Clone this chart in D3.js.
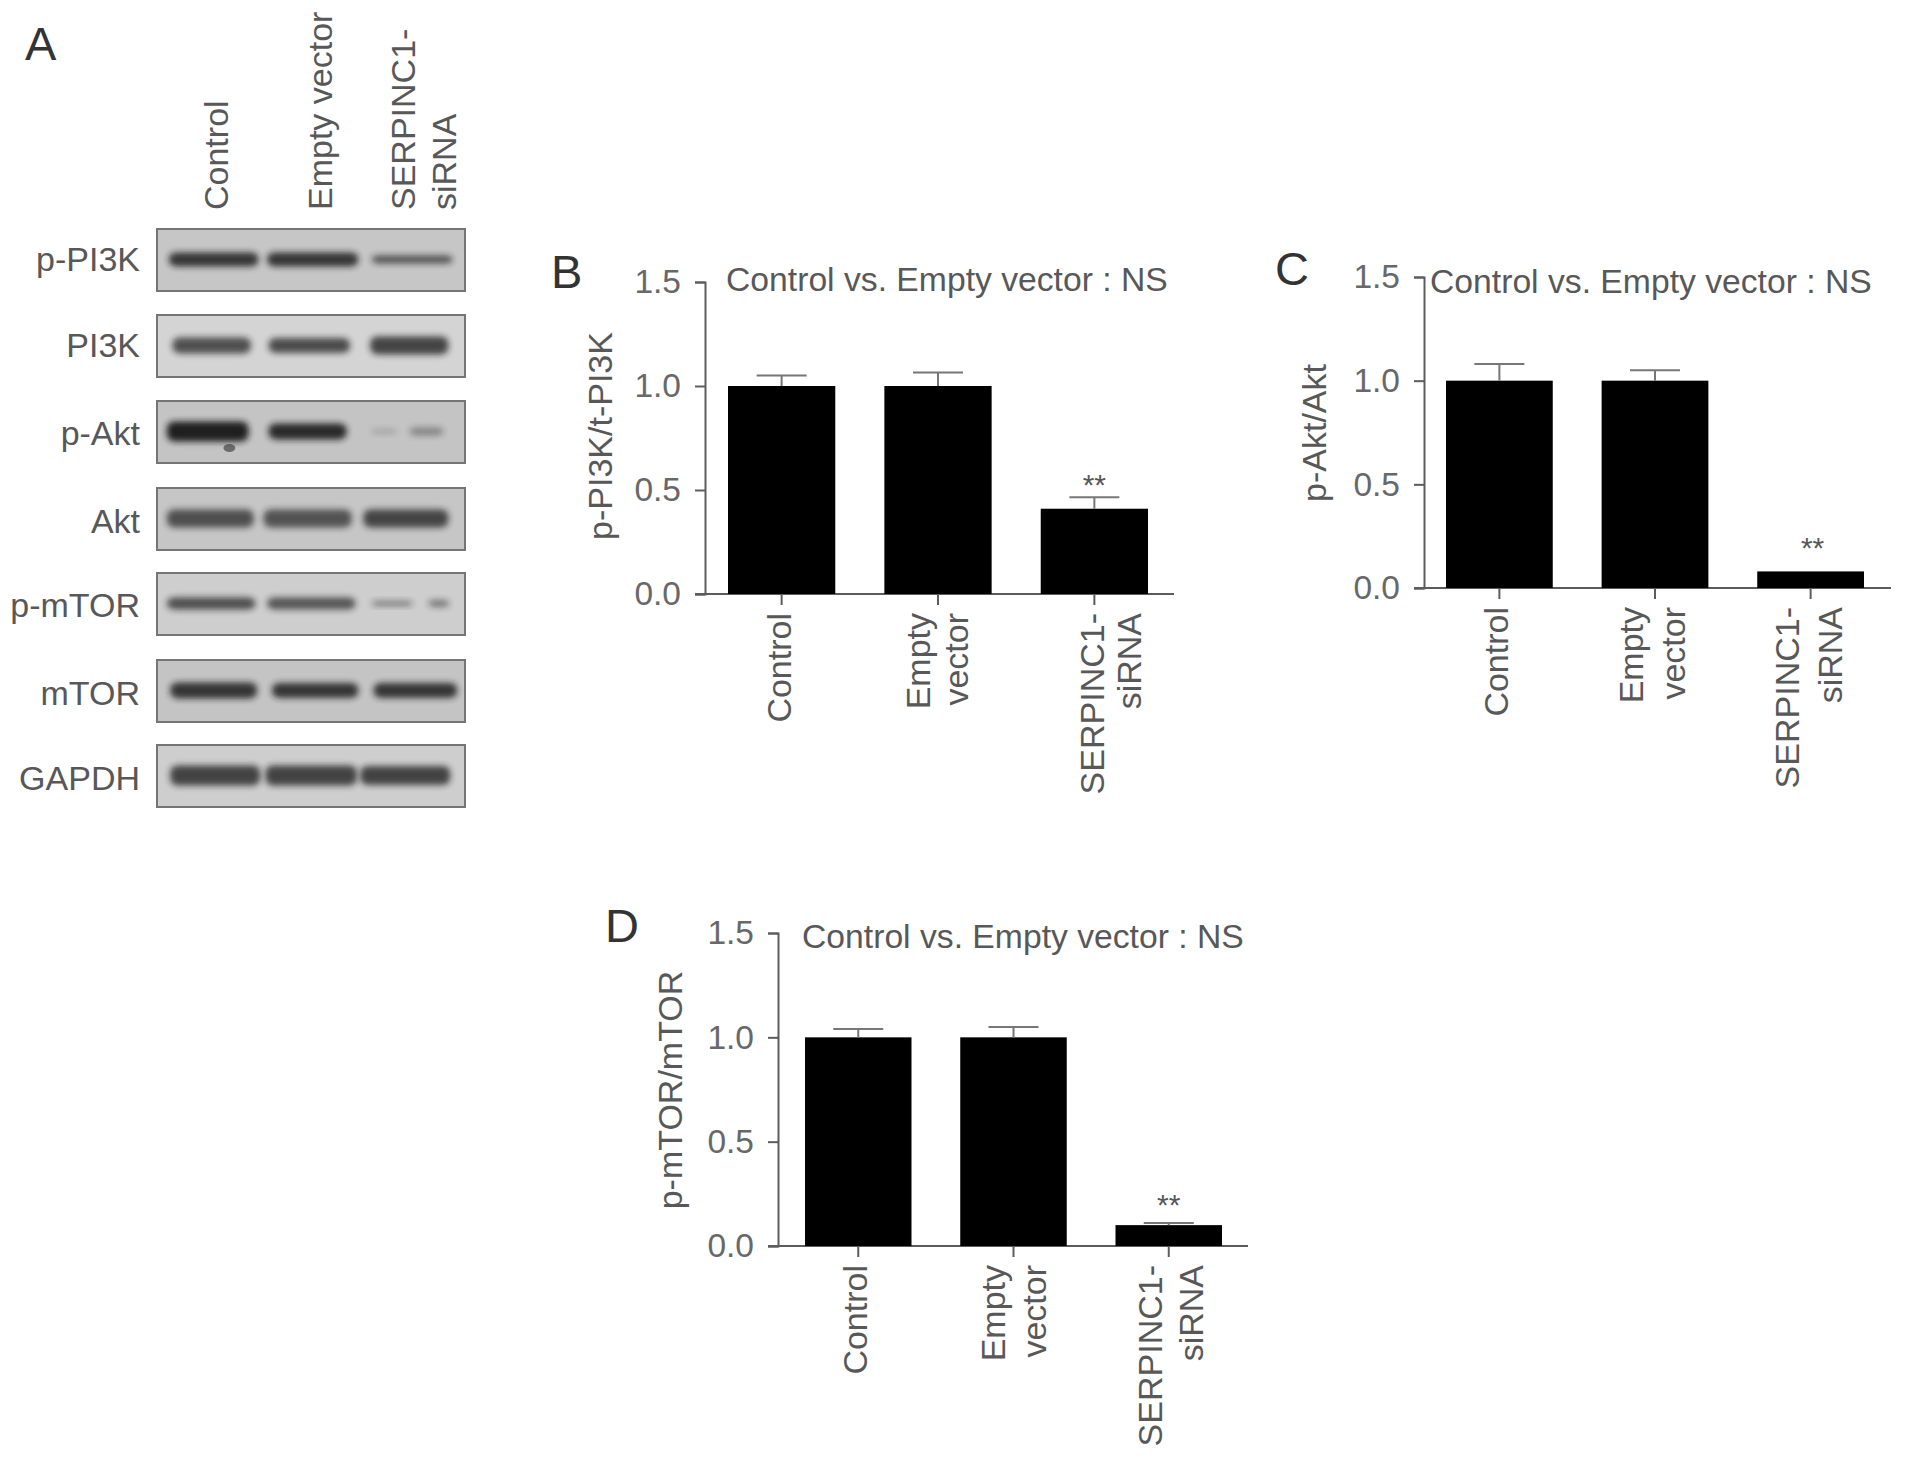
<!DOCTYPE html>
<html>

<head>
    <meta charset="utf-8">
    <style>
        html,
        body {
            margin: 0;
            background-color: #ffffff;
        }

        svg {
            display: block;
        }

        text {
            font-family: "Liberation Sans", Arial, sans-serif;
            fill: #585858;
        }

        .axis path,
        .axis line,
        .baseline,
        .errbar {
            stroke: #5c5c5c;
            stroke-width: 2;
            fill: none;
        }

        .errbar {
            stroke: #777777;
        }

        .axis text {
            font-size: 33.5px;
            fill: #686868;
        }

        .bar {
            fill: #000000;
        }
    </style>
</head>

<body>
    <div id="chart"></div>

    <script src="https://d3js.org/d3.v7.min.js"></script>
    <script>
        // ---- chart data ----
        var groups = ["Control", "Empty vector", "SERPINC1-siRNA"];
        var yTicks = [0, 0.5, 1, 1.5];

        var pi3kValues = [1.0, 1.0, 0.41];
        var pi3kErrors = [0.05, 0.065, 0.055];
        var aktValues = [1.0, 1.0, 0.08];
        var aktErrors = [0.08, 0.05, 0];
        var mtorValues = [1.0, 1.0, 0.1];
        var mtorErrors = [0.04, 0.05, 0.01];

        // western blot rows, band darkness per lane (0-1)
        var blotNames = ["p-PI3K", "PI3K", "p-Akt", "Akt", "p-mTOR", "mTOR", "GAPDH"];
        var blotDensity = [
            [0.85, 0.85, 0.68],
            [0.72, 0.74, 0.78],
            [0.98, 0.92, 0.2, 0.38],
            [0.7, 0.68, 0.76],
            [0.72, 0.68, 0.5, 0.5],
            [0.85, 0.85, 0.85],
            [0.78, 0.78, 0.78]
        ];
        var blotShade = [198, 212, 196, 198, 206, 196, 206];

        // ---- layout ----
        var svg = d3.select("#chart").append("svg")
            .attr("width", 1913)
            .attr("height", 1461);

        var defs = svg.append("defs");
        defs.append("filter").attr("id", "soft")
            .attr("x", "-20%").attr("y", "-80%").attr("width", "140%").attr("height", "260%")
            .append("feGaussianBlur").attr("stdDeviation", 3);
        defs.append("filter").attr("id", "edge")
            .append("feGaussianBlur").attr("stdDeviation", 0.7);

        // band extents in percent of the blot width, thickness in px
        var blotBands = [
            [[3.8, 33, 14], [35.7, 65.4, 14], [69.7, 96, 8]],
            [[5, 30.5, 16], [36.2, 62.7, 15], [69.2, 94.6, 18]],
            [[3.2, 29.7, 20], [36.2, 61.6, 16], [69.5, 78, 5], [82, 93, 8]],
            [[3.2, 31.4, 18], [34.6, 63.2, 18], [67, 94.6, 18]],
            [[3.2, 32, 12], [35.7, 64.5, 12], [69.7, 83, 5], [88, 95, 7]],
            [[4.3, 32.5, 16], [37.3, 65.4, 15], [70.3, 97.5, 15]],
            [[4.3, 33.5, 20], [35.2, 64.9, 20], [66, 95.2, 19]]
        ];
        var blotTop = [229, 315, 401, 488, 573, 660, 745];
        var blotLabelY = [271, 357, 445, 533, 617, 705, 790];
        var blotHeight = 62;

        var blotX = d3.scaleLinear().domain([0, 100]).range([157, 465]);

        function drawBlots() {
            var g = svg.append("g");

            blotNames.forEach(function (name, i) {
                var top = blotTop[i],
                    shade = blotShade[i];

                g.append("rect")
                    .attr("x", blotX(0))
                    .attr("y", top)
                    .attr("width", blotX(100) - blotX(0))
                    .attr("height", blotHeight)
                    .attr("fill", d3.rgb(shade, shade, shade))
                    .attr("stroke", "#747474")
                    .attr("stroke-width", 2)
                    .attr("filter", "url(#edge)");

                g.selectAll(".band" + i)
                    .data(blotBands[i])
                    .enter().append("rect")
                    .attr("class", "band" + i)
                    .attr("x", function (d) { return blotX(d[0]) })
                    .attr("y", function (d) { return top + blotHeight * 0.49 - d[2] / 2 })
                    .attr("width", function (d) { return blotX(d[1]) - blotX(d[0]) })
                    .attr("height", function (d) { return d[2] })
                    .attr("rx", 7)
                    .attr("fill", "#1c1c1c")
                    .attr("opacity", function (d, j) { return blotDensity[i][j] })
                    .attr("filter", "url(#soft)");

                g.append("text")
                    .attr("x", 140)
                    .attr("y", blotLabelY[i])
                    .attr("text-anchor", "end")
                    .style("font-size", "34px")
                    .text(name);
            });

            // the dark smear under the first p-Akt lane
            g.append("ellipse")
                .attr("cx", blotX(23.5))
                .attr("cy", blotTop[2] + 47)
                .attr("rx", 6)
                .attr("ry", 4)
                .attr("fill", "#333333")
                .attr("opacity", 0.6)
                .attr("filter", "url(#edge)");

            // lane headers
            var headers = [["Control", 216], ["Empty vector", 320], ["SERPINC1-", 403], ["siRNA", 444]];
            headers.forEach(function (h) {
                g.append("text")
                    .attr("transform", "translate(" + h[1] + ",210) rotate(-90)")
                    .attr("dy", ".35em")
                    .style("font-size", "34px")
                    .text(h[0]);
            });

            letter("A", 25, 60);
        }

        function letter(s, x, y) {
            svg.append("text")
                .attr("x", x)
                .attr("y", y)
                .style("font-size", "47px")
                .style("fill", "#333333")
                .text(s);
        }

        function drawBars(p) {
            var g = svg.append("g");

            var y = d3.scaleLinear().domain([0, 1.5]).range([p.y0, p.y15]);
            var x = d3.scaleBand().domain(groups)
                .range([p.barLeft, p.barRight])
                .paddingInner(0.314)
                .paddingOuter(0);

            // y axis
            g.append("g")
                .attr("class", "axis")
                .attr("transform", "translate(" + p.axisX + ",0)")
                .call(d3.axisLeft(y).tickValues(yTicks).tickFormat(d3.format(".1f")).tickSize(10).tickPadding(14).tickSizeOuter(10));

            // x axis, the line runs past the last bar
            g.append("line")
                .attr("class", "baseline")
                .attr("x1", p.axisX - 10)
                .attr("x2", p.baseRight)
                .attr("y1", y(0))
                .attr("y2", y(0));

            var xAxis = g.append("g")
                .attr("class", "axis")
                .attr("transform", "translate(0," + y(0) + ")")
                .call(d3.axisBottom(x).tickSize(11).tickSizeOuter(0).tickFormat(""));
            xAxis.select(".domain").remove();

            // bars
            g.selectAll(".bar")
                .data(groups)
                .enter().append("rect")
                .attr("class", "bar")
                .attr("x", function (d) { return x(d) })
                .attr("y", function (d, i) { return y(p.values[i]) })
                .attr("width", x.bandwidth())
                .attr("height", function (d, i) { return y(0) - y(p.values[i]) });

            // error bars, upper half only
            groups.forEach(function (d, i) {
                if (p.errors[i] == 0) return;
                var cx = x(d) + x.bandwidth() / 2,
                    top = y(p.values[i] + p.errors[i]);
                g.append("line").attr("class", "errbar")
                    .attr("x1", cx).attr("x2", cx)
                    .attr("y1", y(p.values[i])).attr("y2", top);
                g.append("line").attr("class", "errbar")
                    .attr("x1", cx - 25).attr("x2", cx + 25)
                    .attr("y1", top).attr("y2", top);
            });

            // significance stars over the knockdown
            var last = groups[2];
            g.append("text")
                .attr("x", x(last) + x.bandwidth() / 2 + p.starDx)
                .attr("y", y(p.values[2] + p.errors[2]) - p.starGap)
                .attr("text-anchor", "middle")
                .style("font-size", "30px")
                .text("**");

            // rotated category labels
            var lines = [["Control"], ["Empty", "vector"], ["SERPINC1-", "siRNA"]];
            lines.forEach(function (ls, i) {
                ls.forEach(function (t, j) {
                    g.append("text")
                        .attr("transform", "translate(" + (x(groups[i]) + x.bandwidth() / 2 + p.lineDx[i][j]) + "," + (y(0) + 19) + ") rotate(-90)")
                        .attr("text-anchor", "end")
                        .attr("dy", ".35em")
                        .style("font-size", "34px")
                        .text(t);
                });
            });

            // y label
            g.append("text")
                .attr("transform", "translate(" + p.labelX + "," + p.labelY + ") rotate(-90)")
                .attr("text-anchor", "middle")
                .attr("dy", ".35em")
                .style("font-size", "34px")
                .text(p.label);

            // comparison note
            g.append("text")
                .attr("x", p.noteX)
                .attr("y", p.noteY)
                .style("font-size", "33.7px")
                .text("Control vs. Empty vector : NS");

            letter(p.letter, p.letterX, p.letterY);
        }

        drawBlots();

        drawBars({
            letter: "B", letterX: 551, letterY: 288,
            label: "p-PI3K/t-PI3K", labelX: 600, labelY: 436,
            noteX: 726, noteY: 291,
            values: pi3kValues, errors: pi3kErrors,
            axisX: 705, y0: 594, y15: 282, barLeft: 728, barRight: 1148, baseRight: 1174,
            starDx: 0, starGap: 2,
            lineDx: [[-3], [-20, 18], [-2, 35]]
        });

        drawBars({
            letter: "C", letterX: 1275, letterY: 285,
            label: "p-Akt/Akt", labelX: 1314, labelY: 433,
            noteX: 1430, noteY: 293,
            values: aktValues, errors: aktErrors,
            axisX: 1424, y0: 588, y15: 277, barLeft: 1446, barRight: 1864, baseRight: 1891,
            starDx: 2, starGap: 13,
            lineDx: [[-3], [-24, 18], [-24, 19]]
        });

        drawBars({
            letter: "D", letterX: 605, letterY: 942,
            label: "p-mTOR/mTOR", labelX: 670, labelY: 1090,
            noteX: 802, noteY: 948,
            values: mtorValues, errors: mtorErrors,
            axisX: 778, y0: 1246, y15: 933, barLeft: 805, barRight: 1222, baseRight: 1248,
            starDx: 0, starGap: 8,
            lineDx: [[-3], [-20, 21], [-19, 22]]
        });
    </script>
</body>

</html>
